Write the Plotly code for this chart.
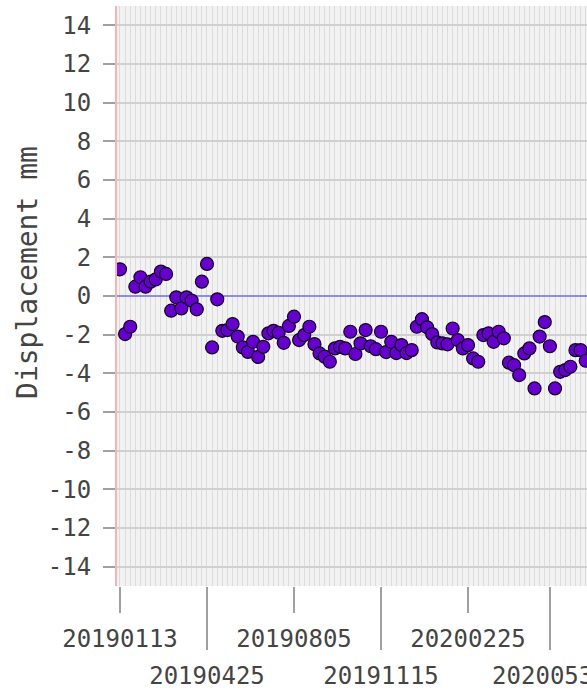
import plotly.graph_objects as go

dates = [
    "2019-01-13", "2019-01-19", "2019-01-25", "2019-01-31", "2019-02-06", "2019-02-12",
    "2019-02-18", "2019-02-24", "2019-03-02", "2019-03-08", "2019-03-14", "2019-03-20",
    "2019-03-26", "2019-04-01", "2019-04-07", "2019-04-13", "2019-04-19", "2019-04-25",
    "2019-05-01", "2019-05-07", "2019-05-13", "2019-05-19", "2019-05-25", "2019-05-31",
    "2019-06-06", "2019-06-12", "2019-06-18", "2019-06-24", "2019-06-30", "2019-07-06",
    "2019-07-12", "2019-07-18", "2019-07-24", "2019-07-30", "2019-08-05", "2019-08-11",
    "2019-08-17", "2019-08-23", "2019-08-29", "2019-09-04", "2019-09-10", "2019-09-16",
    "2019-09-22", "2019-09-28", "2019-10-04", "2019-10-10", "2019-10-16", "2019-10-22",
    "2019-10-28", "2019-11-03", "2019-11-09", "2019-11-15", "2019-11-21", "2019-11-27",
    "2019-12-03", "2019-12-09", "2019-12-15", "2019-12-21", "2019-12-27", "2020-01-02",
    "2020-01-08", "2020-01-14", "2020-01-20", "2020-01-26", "2020-02-01", "2020-02-07",
    "2020-02-13", "2020-02-19", "2020-02-25", "2020-03-02", "2020-03-08", "2020-03-14",
    "2020-03-20", "2020-03-26", "2020-04-01", "2020-04-07", "2020-04-13", "2020-04-19",
    "2020-04-25", "2020-05-01", "2020-05-07", "2020-05-13", "2020-05-19", "2020-05-25",
    "2020-05-31", "2020-06-06", "2020-06-12", "2020-06-18", "2020-06-24", "2020-06-30",
    "2020-07-06", "2020-07-12",
]

displacement_mm = [
    1.38, -1.97, -1.59, 0.48, 0.97, 0.48, 0.74, 0.86, 1.26, 1.14,
    -0.76, -0.07, -0.64, -0.07, -0.24, -0.69, 0.74, 1.66, -2.66, -0.17,
    -1.80, -1.76, -1.45, -2.10, -2.66, -2.89, -2.37, -3.15, -2.63, -1.93,
    -1.80, -1.90, -2.42, -1.55, -1.07, -2.28, -2.02, -1.59, -2.49, -2.97,
    -3.14, -3.40, -2.71, -2.63, -2.71, -1.85, -3.00, -2.45, -1.76, -2.60,
    -2.75, -1.85, -2.90, -2.37, -2.95, -2.54, -2.95, -2.80, -1.59, -1.20,
    -1.62, -1.97, -2.40, -2.45, -2.50, -1.68, -2.28, -2.71, -2.54, -3.23,
    -3.40, -2.02, -1.93, -2.37, -1.85, -2.19, -3.45, -3.58, -4.09, -2.97,
    -2.71, -4.78, -2.10, -1.35, -2.60, -4.78, -3.92, -3.83, -3.66, -2.80,
    -2.80, -3.35,
]

row1_ticks = ["2019-01-13", "2019-08-05", "2020-02-25"]
row1_labels = ["20190113", "20190805", "20200225"]
row2_ticks = ["2019-04-25", "2019-11-15", "2020-05-31"]
row2_labels = ["20190425", "20191115", "20200531"]

y_ticks = [-14, -12, -10, -8, -6, -4, -2, 0, 2, 4, 6, 8, 10, 12, 14]
y_labels = ["-14", "-12", "-10", "-8", "-6", "-4", "-2", "0", "2", "4", "6", "8", "10", "12", "14"]

x_range = ["2019-01-09 12:00", "2020-07-13 12:00"]
y_range = [-15, 15]

FONT = "DejaVu Sans Mono"
TXT = "#444444"
DAY_MS = 86400000

fig = go.Figure()
fig.add_trace(go.Scatter(
    x=dates, y=displacement_mm, mode="markers",
    marker=dict(size=13, color="#6600cc", line=dict(color="#120024", width=1.2)),
    showlegend=False, hoverinfo="x+y",
))
# empty carrier trace so the second (row-2 label) x axis is drawn
fig.add_trace(go.Scatter(
    x=row2_ticks, y=[None] * len(row2_ticks), xaxis="x2", yaxis="y",
    mode="markers", showlegend=False, hoverinfo="skip",
))

axis_common = dict(
    type="date", range=x_range, automargin=False,
    tickmode="array", ticks="outside", tickwidth=2, tickcolor="#a0a0a0",
    ticklabelstandoff=5, ticklabeloverflow="allow",
    showgrid=False, zeroline=False, showline=False,
    tickfont=dict(family=FONT, size=24, color=TXT),
)

fig.update_layout(
    width=587, height=691,
    margin=dict(l=117, r=0, t=6, b=105, autoexpand=False),
    paper_bgcolor="white",
    plot_bgcolor="#f2f2f2",
    font=dict(family=FONT, size=24, color=TXT),
    showlegend=False,
    xaxis=dict(
        **axis_common,
        tickvals=row1_ticks, ticktext=row1_labels, ticklen=26,
        minor=dict(dtick=6 * DAY_MS, tick0="2019-01-13", showgrid=True,
                   gridcolor="#dcdcdc", gridwidth=1, ticks=""),
    ),
    xaxis2=dict(
        **axis_common,
        matches="x", overlaying="x", anchor="y", side="bottom",
        tickvals=row2_ticks, ticktext=row2_labels, ticklen=63,
    ),
    yaxis=dict(
        range=y_range, automargin=False,
        tickmode="array", tickvals=y_ticks, ticktext=y_labels,
        ticks="outside", ticklen=12, tickwidth=2, tickcolor="#a0a0a0",
        ticklabelstandoff=7,
        showgrid=True, gridcolor="#d0d0d0", gridwidth=1.5,
        zeroline=True, zerolinecolor="#8c8cf0", zerolinewidth=2,
        showline=True, linecolor="#f5b3b3", linewidth=2,
        tickfont=dict(family=FONT, size=24, color=TXT),
    ),
    annotations=[dict(
        text="Displacement mm", textangle=-90, showarrow=False,
        xref="paper", yref="paper", x=-0.189, y=0.54,
        xanchor="center", yanchor="middle",
        font=dict(family=FONT, size=28, color=TXT),
    )],
)

fig.write_html("out.html")
